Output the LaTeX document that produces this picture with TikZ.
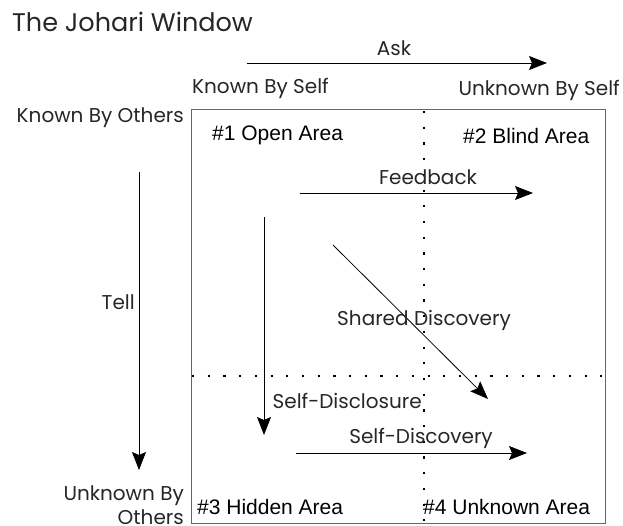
\documentclass[tikz,border=0pt]{standalone}
\usepackage{fontspec}
\setmainfont{Poppins}
\newfontfamily\areafont{Liberation Sans}
\usetikzlibrary{arrows.meta, positioning}
\definecolor{mytext}{rgb}{0.15,0.15,0.15}
\definecolor{myframe}{rgb}{0.4,0.4,0.4}
\newcommand{\AreaOpen}{\areafont\#1 Open Area}
\newcommand{\AreaBlind}{\areafont\#2 Blind Area}
\newcommand{\AreaHidden}{\areafont\#3 Hidden Area}
\newcommand{\AreaUnknown}{\areafont\#4 Unknown Area}

\begin{document}
\begin{tikzpicture}[x=1pt,y=-1pt,
    lbl/.style={inner sep=0pt, text=mytext, font=\fontsize{20}{24}\selectfont},
    area/.style={inner sep=0pt, text=black, font=\fontsize{21}{24}\selectfont},
    arr/.style={-{Stealth[length=18pt,width=14pt,inset=3pt]}, line width=0.8pt, black},
    grid/.style={line width=2.2pt, dash pattern=on 2.2pt off 13.5pt, black}]
  \useasboundingbox (0,0) rectangle (623,525);

  % title and headings
  \node[lbl, anchor=west, font=\fontsize{25.5}{28}\selectfont] (Title) at (12,22) {The Johari Window};
  \node[lbl, anchor=west]  (KnownSelf)   at (192,88)  {Known By Self};
  \node[lbl, anchor=east]  (UnknownSelf) at (620,90)  {Unknown By Self};
  \node[lbl, anchor=east]  (KnownOth)    at (184,118) {Known By Others};
  \node[lbl, anchor=east, align=right] (UnknownOth) at (184,505) {Unknown By\\Others};

  % the window
  \node[draw=myframe, line width=1.2pt, inner sep=0pt, minimum width=414pt,
        minimum height=414pt, anchor=north west] (Window) at (191,109) {};
  \coordinate (VTop) at (424,111);
  \coordinate (VBot) at (424,522);
  \coordinate (HLeft) at (192,376);
  \coordinate (HRight) at (604,376);
  \draw[grid] (VTop) -- (VBot);
  \draw[grid] (HLeft) -- (HRight);

  \node[area, anchor=west] (Open)    at (212,135) {\AreaOpen};
  \node[area, anchor=west] (Blind)   at (463,136) {\AreaBlind};
  \node[area, anchor=west] (Hidden)  at (197,507) {\AreaHidden};
  \node[area, anchor=west] (Unknown) at (423,507) {\AreaUnknown};

  % arrows
  \coordinate (AskS) at (247,63);   \coordinate (AskE) at (547,63);
  \coordinate (TellS) at (139,172); \coordinate (TellE) at (139,470);
  \coordinate (FbS) at (300,193);   \coordinate (FbE) at (533,193);
  \coordinate (SdS) at (264,217);   \coordinate (SdE) at (264,435);
  \coordinate (ShS) at (333,245);   \coordinate (ShE) at (488,399);
  \coordinate (SvS) at (296,453);   \coordinate (SvE) at (527,453);

  \draw[arr] (AskS) -- (AskE);
  \draw[arr] (TellS) -- (TellE);
  \draw[arr] (FbS) -- (FbE);
  \draw[arr] (SdS) -- (SdE);
  \draw[arr] (ShS) -- (ShE);
  \draw[arr] (SvS) -- (SvE);

  \node[lbl] (Ask)      at (394,48)  {Ask};
  \node[lbl, anchor=east] (Tell) at (135,302) {Tell};
  \node[lbl] (Feedback) at (428,177) {Feedback};
  \node[lbl] (Shared)   at (424,320) {Shared Discovery};
  \node[lbl, anchor=east] (SelfDis) at (422,401) {Self-Disclosure};
  \node[lbl] (SelfDisc) at (421,438) {Self-Discovery};
\end{tikzpicture}
\end{document}
